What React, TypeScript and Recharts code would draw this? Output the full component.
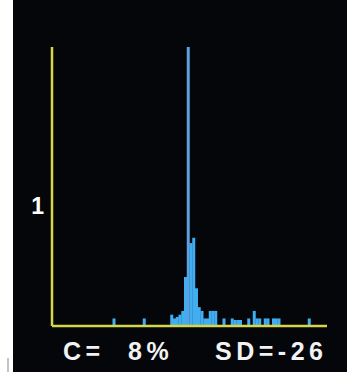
import React from 'react';
import { BarChart, Bar, XAxis, YAxis, Cell } from 'recharts';

// histogram counts, 100 bins across the x range
const counts: number[] = [
  0, 0, 0, 0, 0, 0, 0, 0, 0, 0,
  0, 0, 0, 0, 0, 0, 0, 0, 0, 0,
  0, 0, 1, 0, 0, 0, 0, 0, 0, 0,
  0, 0, 0, 1, 0, 0, 0, 0, 0, 0,
  0, 0, 0, 1.5, 1, 1.2, 1.5, 2, 6.5, 37,
  11, 11.7, 5, 2.5, 2, 1, 1, 2, 2, 2,
  0, 0, 1, 0, 0, 1, 0.8, 0.8, 0.8, 0,
  0, 1, 0, 2, 1, 1, 0, 1, 1, 0,
  1, 1, 1, 0, 0, 0, 0, 0, 0, 0,
  0, 0, 0, 1, 0, 0, 0, 0, 0, 0,
];
const peakBin = 49;
const yTickValues = [16];
const yTickLabels = ['1'];
const footerTexts = ['C=', '8%', 'SD=-26'];

const data = counts.map((c, i) => ({ bin: i, count: c }));

const BG = '#04060a';
const YELLOW = '#d6d64a';
const BLUE = '#40aef0';
const SPIKE = '#5aa2e0';

const footerLeft = [63, 128, 215];

export default function App() {
  return (
    <div style={{ position: 'absolute', left: 0, top: 0, width: 347, height: 372, background: '#ffffff', overflow: 'hidden' }}>
      <div style={{ position: 'absolute', left: 7, top: 358, width: 2, height: 14, background: '#c4c4c4' }} />
      <div style={{ position: 'absolute', left: 13, top: 0, width: 334, height: 372, background: BG }} />
      <div style={{ position: 'absolute', left: 0, top: 0 }}>
        <BarChart
          width={347}
          height={372}
          data={data}
          margin={{ top: 47, right: 20, bottom: 6, left: 12 }}
          barCategoryGap={0}
          barGap={0}
        >
          <XAxis
            dataKey="bin"
            type="category"
            tick={false}
            tickLine={false}
            axisLine={{ stroke: YELLOW, strokeWidth: 2.5 }}
            height={40}
          />
          <YAxis
            type="number"
            domain={[0, 37]}
            ticks={yTickValues}
            tickFormatter={(v: number) => yTickLabels[yTickValues.indexOf(v)] ?? ''}
            tickLine={false}
            tickSize={0}
            tickMargin={8}
            width={40}
            axisLine={{ stroke: YELLOW, strokeWidth: 2.5 }}
            tick={{ fill: '#ffffff', fontSize: 23, fontWeight: 'bold', fontFamily: '"Liberation Sans", Arial, sans-serif' }}
          />
          <Bar dataKey="count" fill={BLUE} isAnimationActive={false}>
            {data.map((d, i) => (
              <Cell key={i} fill={i === peakBin ? SPIKE : BLUE} />
            ))}
          </Bar>
        </BarChart>
      </div>
      <div style={{ position: 'absolute', left: 13, top: 337, width: 314, height: 30, overflow: 'hidden' }}>
        {footerTexts.map((t, i) => (
          <span
            key={i}
            style={{
              position: 'absolute',
              left: footerLeft[i] - 13,
              top: 0,
              color: '#f2f2f2',
              fontFamily: '"Liberation Sans", Arial, sans-serif',
              fontWeight: 'bold',
              fontSize: 25,
              letterSpacing: 4.5,
              lineHeight: '28px',
              whiteSpace: 'nowrap',
            }}
          >
            {t}
          </span>
        ))}
      </div>
    </div>
  );
}
